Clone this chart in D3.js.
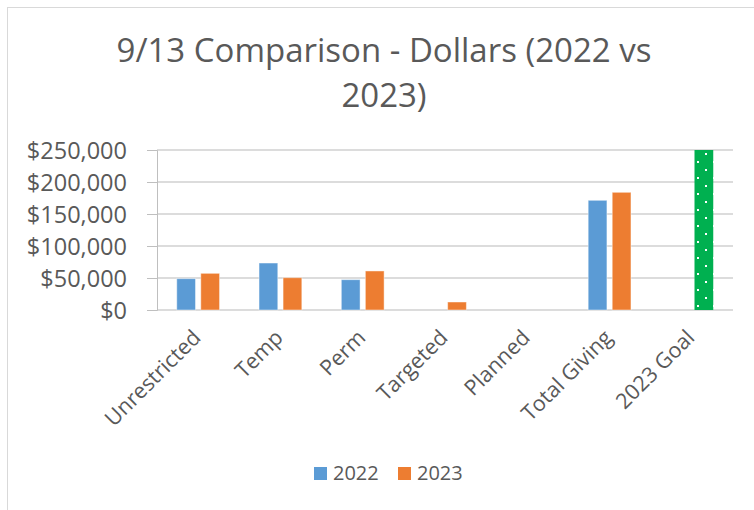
<!DOCTYPE html>
<html>
<head>
<meta charset="utf-8">
<script src="https://cdn.jsdelivr.net/npm/d3@7"></script>
<style>
  body { margin: 0; background: #fff; }
  text { font-family: "Open Sans", sans-serif; fill: #595959; }
</style>
</head>
<body>
<div id="chart-area"></div>
<script>
let width = 754;
let height = 510;

// chart data
let categories = ["Unrestricted", "Temp", "Perm", "Targeted", "Planned", "Total Giving", "2023 Goal"];
let seriesNames = ["2022", "2023"];
let values2022 = [49000, 73400, 47400, 0, 0, 171400, null];
let values2023 = [57300, 50500, 61000, 12500, 0, 183900, 250000];
let tickValues = [0, 50000, 100000, 150000, 200000, 250000];
let titleLines = ["9/13 Comparison - Dollars (2022 vs", "2023)"];

let colors = { "2022": "#5B9BD5", "2023": "#ED7D31" };
let goalColor = "#00B050";

let plot = { left: 157, right: 733, top: 150, bottom: 310 };

let svg = d3.select("#chart-area")
	.append("svg")
	.attr("width", width)
	.attr("height", height);

svg.append("rect")
	.attr("width", width).attr("height", height)
	.attr("fill", "#fff");

// chart border
svg.append("rect")
	.attr("x", 7.5).attr("y", 7.5)
	.attr("width", 800).attr("height", 600)
	.attr("fill", "none")
	.attr("stroke", "#d9d9d9");

// title
svg.append("text")
	.attr("text-anchor", "middle")
	.style("font-size", "33px")
	.selectAll("tspan")
	.data(titleLines)
	.enter()
	.append("tspan")
	.attr("x", 384)
	.attr("y", (d, i) => 62 + i * 45)
	.text(d => d);

let x = d3.scaleBand()
	.domain(categories)
	.range([plot.left, plot.right])
	.paddingInner(0.48)
	.paddingOuter(0.24);

let x1 = d3.scaleBand()
	.domain(seriesNames)
	.range([0, x.bandwidth()])
	.paddingInner(0.22);

let y = d3.scaleLinear()
	.domain([0, 250000])
	.range([plot.bottom, plot.top]);

// gridlines
svg.append("g")
	.selectAll("line")
	.data(tickValues)
	.enter()
	.append("line")
	.attr("x1", plot.left)
	.attr("x2", plot.right)
	.attr("y1", d => y(d))
	.attr("y2", d => y(d))
	.attr("stroke", "#dcdcdc")
	.attr("stroke-width", 2);

// y axis
let yAxis = d3.axisLeft(y)
	.tickValues(tickValues)
	.tickSize(10)
	.tickPadding(20)
	.tickFormat(d => "$" + d3.format(",")(d));

let yg = svg.append("g")
	.attr("transform", `translate(${plot.left}, 0)`)
	.call(yAxis);
yg.select(".domain").attr("stroke", "#bfbfbf");
yg.selectAll(".tick line").attr("stroke", "#bfbfbf");
yg.selectAll(".tick text")
	.style("font-size", "23.5px")
	.style("font-family", "'Open Sans', sans-serif")
	.attr("fill", "#595959")
	.attr("dy", "0.36em");

// pattern for the goal bar
let goalX = x("2023 Goal") + x1("2023");
let defs = svg.append("defs");
let pat = defs.append("pattern")
	.attr("id", "dots")
	.attr("patternUnits", "userSpaceOnUse")
	.attr("x", Math.round(goalX) + 2)
	.attr("y", 161)
	.attr("width", 16)
	.attr("height", 16);
pat.append("rect").attr("width", 16).attr("height", 16).attr("fill", goalColor);
pat.append("rect").attr("x", 0).attr("y", 0).attr("width", 2).attr("height", 2).attr("fill", "#fff");
pat.append("rect").attr("x", 8).attr("y", 8).attr("width", 2).attr("height", 2).attr("fill", "#fff");

let rows = [];
categories.forEach((c, i) => {
	rows.push({ cat: c, series: "2022", value: values2022[i] });
	rows.push({ cat: c, series: "2023", value: values2023[i] });
});

svg.append("g")
	.selectAll("rect")
	.data(rows.filter(d => d.value))
	.enter()
	.append("rect")
	.attr("x", d => x(d.cat) + x1(d.series))
	.attr("y", d => y(d.value))
	.attr("width", x1.bandwidth())
	.attr("height", d => y(0) - y(d.value))
	.attr("fill", d => d.cat === "2023 Goal" ? "url(#dots)" : colors[d.series])
	.attr("stroke", d => d.cat === "2023 Goal" ? "none" : "#fff")
	.attr("stroke-opacity", 0.45)
	.attr("stroke-width", 1);

// category labels, rotated
svg.append("g")
	.selectAll("text")
	.data(categories)
	.enter()
	.append("text")
	.attr("text-anchor", "end")
	.attr("transform", d => `translate(${x(d) + x.bandwidth() / 2 + 4}, 339) rotate(-45)`)
	.style("font-size", "21.5px")
	.text(d => d);

// legend
let legend = svg.append("g")
	.selectAll("g")
	.data(seriesNames)
	.enter()
	.append("g")
	.attr("transform", (d, i) => `translate(${314 + i * 84}, 467)`);

legend.append("rect")
	.attr("width", 13)
	.attr("height", 13)
	.attr("fill", d => colors[d]);

legend.append("text")
	.attr("x", 19)
	.attr("y", 13)
	.style("font-size", "20px")
	.text(d => d);
</script>
</body>
</html>
